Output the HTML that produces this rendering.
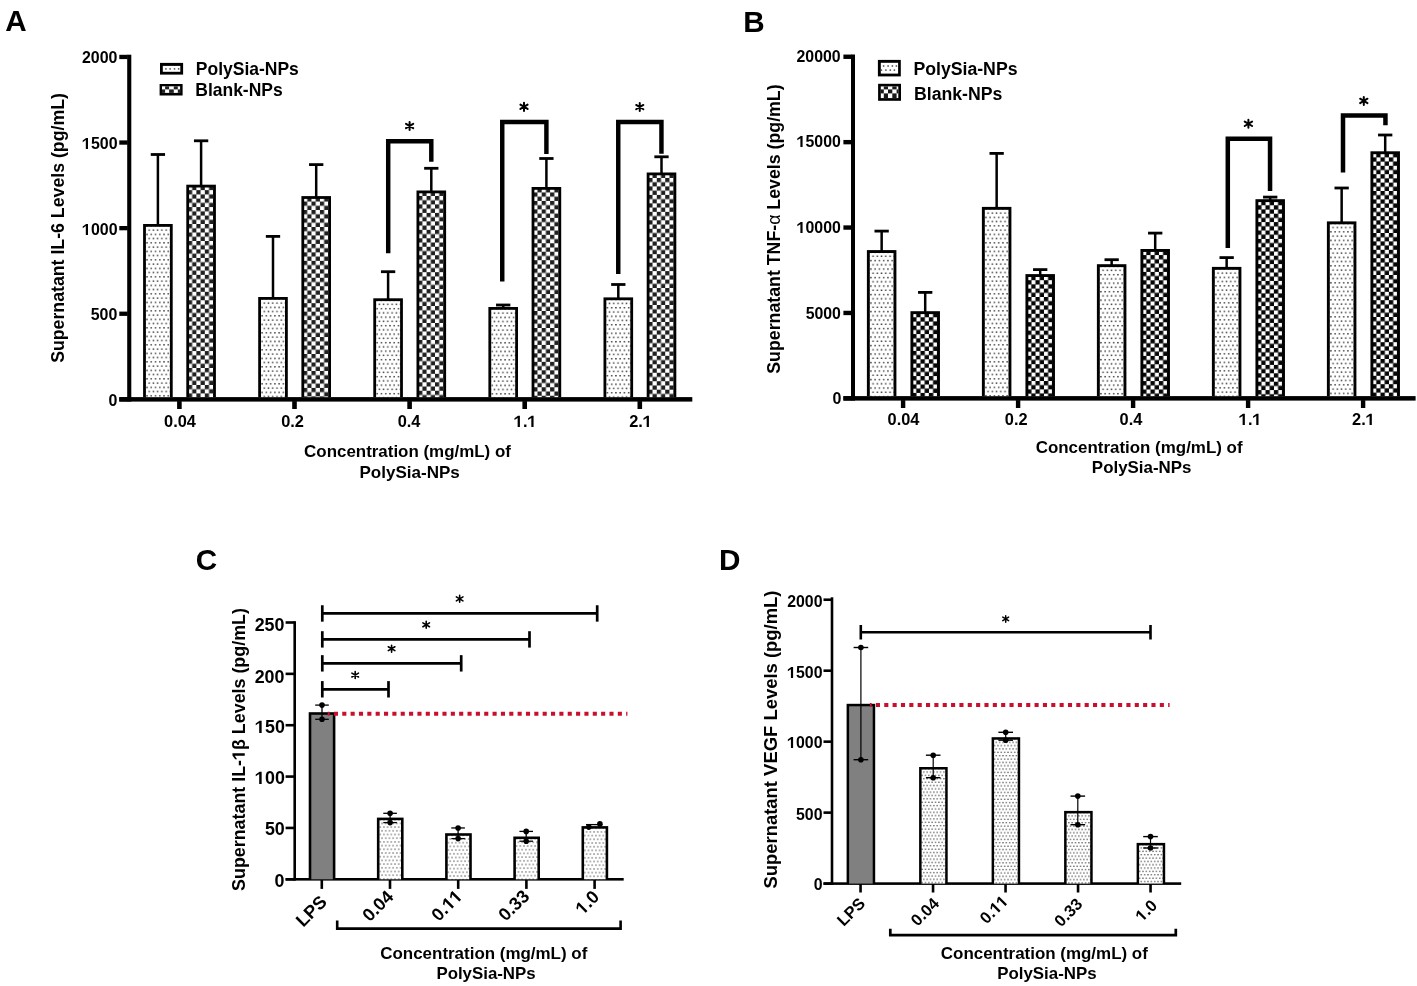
<!DOCTYPE html>
<html><head><meta charset="utf-8"><style>
html,body{margin:0;padding:0;background:#fff;}
svg{display:block;will-change:transform;font-family:"Liberation Sans", sans-serif;}
</style></head><body>
<svg width="1417" height="986" viewBox="0 0 1417 986">

<defs><pattern id="p1" patternUnits="userSpaceOnUse" x="147.025" y="227.975" width="4.25" height="8.5"><rect width="4.25" height="8.5" fill="#fff"/><rect x="1.400" y="1.400" width="1.45" height="1.45" fill="#3a3a3a"/><rect x="-0.725" y="5.650" width="1.45" height="1.45" fill="#3a3a3a"/><rect x="3.525" y="5.650" width="1.45" height="1.45" fill="#3a3a3a"/></pattern><pattern id="p2" patternUnits="userSpaceOnUse" x="187.930" y="190.150" width="8.44" height="8.47"><rect width="8.44" height="8.47" fill="#fff"/><rect width="4.22" height="4.235" fill="#202020"/><rect x="4.22" y="4.235" width="4.22" height="4.235" fill="#202020"/></pattern><pattern id="p3" patternUnits="userSpaceOnUse" x="262.125" y="300.975" width="4.25" height="8.5"><rect width="4.25" height="8.5" fill="#fff"/><rect x="1.400" y="1.400" width="1.45" height="1.45" fill="#3a3a3a"/><rect x="-0.725" y="5.650" width="1.45" height="1.45" fill="#3a3a3a"/><rect x="3.525" y="5.650" width="1.45" height="1.45" fill="#3a3a3a"/></pattern><pattern id="p4" patternUnits="userSpaceOnUse" x="303.030" y="201.550" width="8.44" height="8.47"><rect width="8.44" height="8.47" fill="#fff"/><rect width="4.22" height="4.235" fill="#202020"/><rect x="4.22" y="4.235" width="4.22" height="4.235" fill="#202020"/></pattern><pattern id="p5" patternUnits="userSpaceOnUse" x="377.225" y="302.275" width="4.25" height="8.5"><rect width="4.25" height="8.5" fill="#fff"/><rect x="1.400" y="1.400" width="1.45" height="1.45" fill="#3a3a3a"/><rect x="-0.725" y="5.650" width="1.45" height="1.45" fill="#3a3a3a"/><rect x="3.525" y="5.650" width="1.45" height="1.45" fill="#3a3a3a"/></pattern><pattern id="p6" patternUnits="userSpaceOnUse" x="418.130" y="195.950" width="8.44" height="8.47"><rect width="8.44" height="8.47" fill="#fff"/><rect width="4.22" height="4.235" fill="#202020"/><rect x="4.22" y="4.235" width="4.22" height="4.235" fill="#202020"/></pattern><pattern id="p7" patternUnits="userSpaceOnUse" x="492.325" y="310.975" width="4.25" height="8.5"><rect width="4.25" height="8.5" fill="#fff"/><rect x="1.400" y="1.400" width="1.45" height="1.45" fill="#3a3a3a"/><rect x="-0.725" y="5.650" width="1.45" height="1.45" fill="#3a3a3a"/><rect x="3.525" y="5.650" width="1.45" height="1.45" fill="#3a3a3a"/></pattern><pattern id="p8" patternUnits="userSpaceOnUse" x="533.230" y="192.450" width="8.44" height="8.47"><rect width="8.44" height="8.47" fill="#fff"/><rect width="4.22" height="4.235" fill="#202020"/><rect x="4.22" y="4.235" width="4.22" height="4.235" fill="#202020"/></pattern><pattern id="p9" patternUnits="userSpaceOnUse" x="607.425" y="301.375" width="4.25" height="8.5"><rect width="4.25" height="8.5" fill="#fff"/><rect x="1.400" y="1.400" width="1.45" height="1.45" fill="#3a3a3a"/><rect x="-0.725" y="5.650" width="1.45" height="1.45" fill="#3a3a3a"/><rect x="3.525" y="5.650" width="1.45" height="1.45" fill="#3a3a3a"/></pattern><pattern id="p10" patternUnits="userSpaceOnUse" x="648.330" y="177.950" width="8.44" height="8.47"><rect width="8.44" height="8.47" fill="#fff"/><rect width="4.22" height="4.235" fill="#202020"/><rect x="4.22" y="4.235" width="4.22" height="4.235" fill="#202020"/></pattern><pattern id="p11" patternUnits="userSpaceOnUse" x="870.925" y="254.175" width="4.25" height="8.5"><rect width="4.25" height="8.5" fill="#fff"/><rect x="1.400" y="1.400" width="1.45" height="1.45" fill="#3a3a3a"/><rect x="-0.725" y="5.650" width="1.45" height="1.45" fill="#3a3a3a"/><rect x="3.525" y="5.650" width="1.45" height="1.45" fill="#3a3a3a"/></pattern><pattern id="p12" patternUnits="userSpaceOnUse" x="912.150" y="317.300" width="8.4" height="8.4"><rect width="8.4" height="8.4" fill="#fff"/><rect x="-0.125" y="-0.125" width="4.45" height="4.45" fill="#050505"/><rect x="4.075" y="4.075" width="4.45" height="4.45" fill="#050505"/><rect x="8.275" y="8.275" width="4.45" height="4.45" fill="#050505"/><rect x="8.275" y="-0.125" width="0.125" height="4.45" fill="#050505"/></pattern><pattern id="p13" patternUnits="userSpaceOnUse" x="985.925" y="210.975" width="4.25" height="8.5"><rect width="4.25" height="8.5" fill="#fff"/><rect x="1.400" y="1.400" width="1.45" height="1.45" fill="#3a3a3a"/><rect x="-0.725" y="5.650" width="1.45" height="1.45" fill="#3a3a3a"/><rect x="3.525" y="5.650" width="1.45" height="1.45" fill="#3a3a3a"/></pattern><pattern id="p14" patternUnits="userSpaceOnUse" x="1027.150" y="280.200" width="8.4" height="8.4"><rect width="8.4" height="8.4" fill="#fff"/><rect x="-0.125" y="-0.125" width="4.45" height="4.45" fill="#050505"/><rect x="4.075" y="4.075" width="4.45" height="4.45" fill="#050505"/><rect x="8.275" y="8.275" width="4.45" height="4.45" fill="#050505"/><rect x="8.275" y="-0.125" width="0.125" height="4.45" fill="#050505"/></pattern><pattern id="p15" patternUnits="userSpaceOnUse" x="1100.925" y="268.275" width="4.25" height="8.5"><rect width="4.25" height="8.5" fill="#fff"/><rect x="1.400" y="1.400" width="1.45" height="1.45" fill="#3a3a3a"/><rect x="-0.725" y="5.650" width="1.45" height="1.45" fill="#3a3a3a"/><rect x="3.525" y="5.650" width="1.45" height="1.45" fill="#3a3a3a"/></pattern><pattern id="p16" patternUnits="userSpaceOnUse" x="1142.150" y="255.100" width="8.4" height="8.4"><rect width="8.4" height="8.4" fill="#fff"/><rect x="-0.125" y="-0.125" width="4.45" height="4.45" fill="#050505"/><rect x="4.075" y="4.075" width="4.45" height="4.45" fill="#050505"/><rect x="8.275" y="8.275" width="4.45" height="4.45" fill="#050505"/><rect x="8.275" y="-0.125" width="0.125" height="4.45" fill="#050505"/></pattern><pattern id="p17" patternUnits="userSpaceOnUse" x="1215.925" y="270.975" width="4.25" height="8.5"><rect width="4.25" height="8.5" fill="#fff"/><rect x="1.400" y="1.400" width="1.45" height="1.45" fill="#3a3a3a"/><rect x="-0.725" y="5.650" width="1.45" height="1.45" fill="#3a3a3a"/><rect x="3.525" y="5.650" width="1.45" height="1.45" fill="#3a3a3a"/></pattern><pattern id="p18" patternUnits="userSpaceOnUse" x="1257.150" y="205.300" width="8.4" height="8.4"><rect width="8.4" height="8.4" fill="#fff"/><rect x="-0.125" y="-0.125" width="4.45" height="4.45" fill="#050505"/><rect x="4.075" y="4.075" width="4.45" height="4.45" fill="#050505"/><rect x="8.275" y="8.275" width="4.45" height="4.45" fill="#050505"/><rect x="8.275" y="-0.125" width="0.125" height="4.45" fill="#050505"/></pattern><pattern id="p19" patternUnits="userSpaceOnUse" x="1330.925" y="225.475" width="4.25" height="8.5"><rect width="4.25" height="8.5" fill="#fff"/><rect x="1.400" y="1.400" width="1.45" height="1.45" fill="#3a3a3a"/><rect x="-0.725" y="5.650" width="1.45" height="1.45" fill="#3a3a3a"/><rect x="3.525" y="5.650" width="1.45" height="1.45" fill="#3a3a3a"/></pattern><pattern id="p20" patternUnits="userSpaceOnUse" x="1372.150" y="157.400" width="8.4" height="8.4"><rect width="8.4" height="8.4" fill="#fff"/><rect x="-0.125" y="-0.125" width="4.45" height="4.45" fill="#050505"/><rect x="4.075" y="4.075" width="4.45" height="4.45" fill="#050505"/><rect x="8.275" y="8.275" width="4.45" height="4.45" fill="#050505"/><rect x="8.275" y="-0.125" width="0.125" height="4.45" fill="#050505"/></pattern><pattern id="p21" patternUnits="userSpaceOnUse" x="380.200" y="821.550" width="3.7" height="7.4"><rect width="3.7" height="7.4" fill="#fff"/><rect x="1.300" y="1.300" width="1.1" height="1.1" fill="#222"/><rect x="-0.550" y="5.000" width="1.1" height="1.1" fill="#222"/><rect x="3.150" y="5.000" width="1.1" height="1.1" fill="#222"/></pattern><pattern id="p22" patternUnits="userSpaceOnUse" x="448.400" y="837.150" width="3.7" height="7.4"><rect width="3.7" height="7.4" fill="#fff"/><rect x="1.300" y="1.300" width="1.1" height="1.1" fill="#222"/><rect x="-0.550" y="5.000" width="1.1" height="1.1" fill="#222"/><rect x="3.150" y="5.000" width="1.1" height="1.1" fill="#222"/></pattern><pattern id="p23" patternUnits="userSpaceOnUse" x="516.600" y="840.450" width="3.7" height="7.4"><rect width="3.7" height="7.4" fill="#fff"/><rect x="1.300" y="1.300" width="1.1" height="1.1" fill="#222"/><rect x="-0.550" y="5.000" width="1.1" height="1.1" fill="#222"/><rect x="3.150" y="5.000" width="1.1" height="1.1" fill="#222"/></pattern><pattern id="p24" patternUnits="userSpaceOnUse" x="584.800" y="830.050" width="3.7" height="7.4"><rect width="3.7" height="7.4" fill="#fff"/><rect x="1.300" y="1.300" width="1.1" height="1.1" fill="#222"/><rect x="-0.550" y="5.000" width="1.1" height="1.1" fill="#222"/><rect x="3.150" y="5.000" width="1.1" height="1.1" fill="#222"/></pattern><pattern id="p25" patternUnits="userSpaceOnUse" x="922.125" y="770.425" width="3.35" height="6.7"><rect width="3.35" height="6.7" fill="#fff"/><rect x="1.125" y="1.125" width="1.1" height="1.1" fill="#111"/><rect x="-0.550" y="4.475" width="1.1" height="1.1" fill="#111"/><rect x="2.800" y="4.475" width="1.1" height="1.1" fill="#111"/></pattern><pattern id="p26" patternUnits="userSpaceOnUse" x="994.625" y="740.625" width="3.35" height="6.7"><rect width="3.35" height="6.7" fill="#fff"/><rect x="1.125" y="1.125" width="1.1" height="1.1" fill="#111"/><rect x="-0.550" y="4.475" width="1.1" height="1.1" fill="#111"/><rect x="2.800" y="4.475" width="1.1" height="1.1" fill="#111"/></pattern><pattern id="p27" patternUnits="userSpaceOnUse" x="1067.125" y="814.325" width="3.35" height="6.7"><rect width="3.35" height="6.7" fill="#fff"/><rect x="1.125" y="1.125" width="1.1" height="1.1" fill="#111"/><rect x="-0.550" y="4.475" width="1.1" height="1.1" fill="#111"/><rect x="2.800" y="4.475" width="1.1" height="1.1" fill="#111"/></pattern><pattern id="p28" patternUnits="userSpaceOnUse" x="1139.625" y="846.325" width="3.35" height="6.7"><rect width="3.35" height="6.7" fill="#fff"/><rect x="1.125" y="1.125" width="1.1" height="1.1" fill="#111"/><rect x="-0.550" y="4.475" width="1.1" height="1.1" fill="#111"/><rect x="2.800" y="4.475" width="1.1" height="1.1" fill="#111"/></pattern></defs>
<rect width="1417" height="986" fill="#fff"/>
<rect x="127.20" y="54.70" width="4.10" height="346.90" fill="#000"/>
<rect x="119.30" y="397.10" width="573.00" height="4.50" fill="#000"/>
<rect x="119.30" y="397.20" width="8.40" height="4.30" fill="#000"/>
<g transform="translate(117.28,406.00)"><text font-size="15.96" text-anchor="end" font-weight="bold" fill="#000">0</text></g>
<rect x="119.30" y="311.60" width="8.40" height="4.30" fill="#000"/>
<g transform="translate(117.37,320.00)"><text font-size="15.96" text-anchor="end" font-weight="bold" fill="#000">500</text></g>
<rect x="119.30" y="226.00" width="8.40" height="4.30" fill="#000"/>
<g transform="translate(117.59,235.00)"><text font-size="15.96" text-anchor="end" font-weight="bold" fill="#000"> 000</text><path transform="translate(-35.505,0) scale(0.007793,-0.007793)" d="M478,0L759,0L759,1409L520,1409L81,1100L81,880L478,1139Z" fill="#000"/></g>
<rect x="119.30" y="140.40" width="8.40" height="4.30" fill="#000"/>
<g transform="translate(117.59,149.00)"><text font-size="15.96" text-anchor="end" font-weight="bold" fill="#000"> 500</text><path transform="translate(-35.505,0) scale(0.007793,-0.007793)" d="M478,0L759,0L759,1409L520,1409L81,1100L81,880L478,1139Z" fill="#000"/></g>
<rect x="119.30" y="54.80" width="8.40" height="4.30" fill="#000"/>
<g transform="translate(117.41,63.00)"><text font-size="15.96" text-anchor="end" font-weight="bold" fill="#000">2000</text></g>
<rect x="177.10" y="401.10" width="4.60" height="7.90" fill="#000"/>
<g transform="translate(180.01,427.00)"><text font-size="16.39" text-anchor="middle" font-weight="bold" fill="#000">0.04</text></g>
<rect x="292.20" y="401.10" width="4.60" height="7.90" fill="#000"/>
<g transform="translate(292.50,427.00)"><text font-size="16.39" text-anchor="middle" font-weight="bold" fill="#000">0.2</text></g>
<rect x="407.30" y="401.10" width="4.60" height="7.90" fill="#000"/>
<g transform="translate(409.03,427.00)"><text font-size="16.39" text-anchor="middle" font-weight="bold" fill="#000">0.4</text></g>
<rect x="522.40" y="401.10" width="4.60" height="7.90" fill="#000"/>
<g transform="translate(525.22,427.00)"><text font-size="16.39" text-anchor="middle" font-weight="bold" fill="#000"> . </text><path transform="translate(-11.389,0) scale(0.008001,-0.008001)" d="M478,0L759,0L759,1409L520,1409L81,1100L81,880L478,1139Z" fill="#000"/><path transform="translate(2.276,0) scale(0.008001,-0.008001)" d="M478,0L759,0L759,1409L520,1409L81,1100L81,880L478,1139Z" fill="#000"/></g>
<rect x="637.50" y="401.10" width="4.60" height="7.90" fill="#000"/>
<g transform="translate(640.57,427.00)"><text font-size="16.39" text-anchor="middle" font-weight="bold" fill="#000">2. </text><path transform="translate(2.276,0) scale(0.008001,-0.008001)" d="M478,0L759,0L759,1409L520,1409L81,1100L81,880L478,1139Z" fill="#000"/></g>
<line x1="157.90" y1="154.50" x2="157.90" y2="225.00" stroke="#000" stroke-width="2.5" stroke-linecap="butt" />
<line x1="150.75" y1="154.50" x2="165.05" y2="154.50" stroke="#000" stroke-width="2.8" stroke-linecap="butt" />
<rect x="143.10" y="224.00" width="29.60" height="173.10" fill="#000"/>
<rect x="145.90" y="226.80" width="24.00" height="170.30" fill="url(#p1)"/>
<line x1="201.10" y1="140.80" x2="201.10" y2="185.70" stroke="#000" stroke-width="2.5" stroke-linecap="butt" />
<line x1="193.95" y1="140.80" x2="208.25" y2="140.80" stroke="#000" stroke-width="2.8" stroke-linecap="butt" />
<rect x="186.30" y="184.70" width="29.60" height="212.40" fill="#000"/>
<rect x="189.10" y="187.50" width="24.00" height="209.60" fill="url(#p2)"/>
<line x1="273.00" y1="236.40" x2="273.00" y2="298.00" stroke="#000" stroke-width="2.5" stroke-linecap="butt" />
<line x1="265.85" y1="236.40" x2="280.15" y2="236.40" stroke="#000" stroke-width="2.8" stroke-linecap="butt" />
<rect x="258.20" y="297.00" width="29.60" height="100.10" fill="#000"/>
<rect x="261.00" y="299.80" width="24.00" height="97.30" fill="url(#p3)"/>
<line x1="316.20" y1="164.60" x2="316.20" y2="197.10" stroke="#000" stroke-width="2.5" stroke-linecap="butt" />
<line x1="309.05" y1="164.60" x2="323.35" y2="164.60" stroke="#000" stroke-width="2.8" stroke-linecap="butt" />
<rect x="301.40" y="196.10" width="29.60" height="201.00" fill="#000"/>
<rect x="304.20" y="198.90" width="24.00" height="198.20" fill="url(#p4)"/>
<line x1="388.10" y1="271.70" x2="388.10" y2="299.30" stroke="#000" stroke-width="2.5" stroke-linecap="butt" />
<line x1="380.95" y1="271.70" x2="395.25" y2="271.70" stroke="#000" stroke-width="2.8" stroke-linecap="butt" />
<rect x="373.30" y="298.30" width="29.60" height="98.80" fill="#000"/>
<rect x="376.10" y="301.10" width="24.00" height="96.00" fill="url(#p5)"/>
<line x1="431.30" y1="168.30" x2="431.30" y2="191.50" stroke="#000" stroke-width="2.5" stroke-linecap="butt" />
<line x1="424.15" y1="168.30" x2="438.45" y2="168.30" stroke="#000" stroke-width="2.8" stroke-linecap="butt" />
<rect x="416.50" y="190.50" width="29.60" height="206.60" fill="#000"/>
<rect x="419.30" y="193.30" width="24.00" height="203.80" fill="url(#p6)"/>
<line x1="503.20" y1="305.00" x2="503.20" y2="308.00" stroke="#000" stroke-width="2.5" stroke-linecap="butt" />
<line x1="496.05" y1="305.00" x2="510.35" y2="305.00" stroke="#000" stroke-width="2.8" stroke-linecap="butt" />
<rect x="488.40" y="307.00" width="29.60" height="90.10" fill="#000"/>
<rect x="491.20" y="309.80" width="24.00" height="87.30" fill="url(#p7)"/>
<line x1="546.40" y1="158.50" x2="546.40" y2="188.00" stroke="#000" stroke-width="2.5" stroke-linecap="butt" />
<line x1="539.25" y1="158.50" x2="553.55" y2="158.50" stroke="#000" stroke-width="2.8" stroke-linecap="butt" />
<rect x="531.60" y="187.00" width="29.60" height="210.10" fill="#000"/>
<rect x="534.40" y="189.80" width="24.00" height="207.30" fill="url(#p8)"/>
<line x1="618.30" y1="284.50" x2="618.30" y2="298.40" stroke="#000" stroke-width="2.5" stroke-linecap="butt" />
<line x1="611.15" y1="284.50" x2="625.45" y2="284.50" stroke="#000" stroke-width="2.8" stroke-linecap="butt" />
<rect x="603.50" y="297.40" width="29.60" height="99.70" fill="#000"/>
<rect x="606.30" y="300.20" width="24.00" height="96.90" fill="url(#p9)"/>
<line x1="661.50" y1="156.80" x2="661.50" y2="173.50" stroke="#000" stroke-width="2.5" stroke-linecap="butt" />
<line x1="654.35" y1="156.80" x2="668.65" y2="156.80" stroke="#000" stroke-width="2.8" stroke-linecap="butt" />
<rect x="646.70" y="172.50" width="29.60" height="224.60" fill="#000"/>
<rect x="649.50" y="175.30" width="24.00" height="221.80" fill="url(#p10)"/>
<polyline points="388.20,253.30 388.20,141.30 431.30,141.30 431.30,161.75" fill="none" stroke="#000" stroke-width="4.45" stroke-linejoin="miter"/>
<polyline points="502.25,281.50 502.25,122.05 546.40,122.05 546.40,154.05" fill="none" stroke="#000" stroke-width="4.45" stroke-linejoin="miter"/>
<polyline points="618.25,273.90 618.25,122.05 661.45,122.05 661.45,153.80" fill="none" stroke="#000" stroke-width="4.45" stroke-linejoin="miter"/>
<path d="M409.60,122.00V130.00M406.00,123.84L413.20,128.16M406.00,128.16L413.20,123.84" stroke="#000" stroke-width="2.0" stroke-linecap="round" fill="none"/>
<path d="M524.00,102.70V110.90M520.40,104.64L527.60,108.96M520.40,108.96L527.60,104.64" stroke="#000" stroke-width="2.0" stroke-linecap="round" fill="none"/>
<path d="M639.75,103.10V111.10M636.15,104.94L643.35,109.26M636.15,109.26L643.35,104.94" stroke="#000" stroke-width="2.0" stroke-linecap="round" fill="none"/>
<rect x="160.00" y="62.90" width="23.10" height="11.70" fill="#000"/>
<rect x="162.80" y="65.90" width="17.50" height="5.90" fill="#fff"/>
<rect x="165.15" y="68.15" width="1.50" height="1.50" fill="#4a4a4a"/>
<rect x="169.35" y="68.15" width="1.50" height="1.50" fill="#4a4a4a"/>
<rect x="173.75" y="68.15" width="1.50" height="1.50" fill="#4a4a4a"/>
<rect x="177.85" y="68.15" width="1.50" height="1.50" fill="#4a4a4a"/>
<rect x="159.60" y="84.00" width="23.00" height="11.50" fill="#000"/>
<rect x="162.00" y="86.30" width="18.10" height="6.60" fill="#fff"/>
<rect x="165.10" y="86.30" width="4.00" height="3.10" fill="#222"/>
<rect x="173.80" y="86.30" width="4.00" height="3.10" fill="#222"/>
<rect x="162.00" y="89.40" width="3.10" height="3.50" fill="#222"/>
<rect x="169.10" y="89.40" width="4.70" height="3.50" fill="#222"/>
<rect x="177.80" y="89.40" width="2.30" height="3.50" fill="#222"/>
<g transform="translate(195.83,75.00)"><text font-size="17.49" text-anchor="start" font-weight="bold" fill="#000">PolySia-NPs</text></g>
<g transform="translate(195.25,96.00)"><text font-size="17.49" text-anchor="start" font-weight="bold" fill="#000">Blank-NPs</text></g>
<g transform="translate(5.28,31.00)"><text font-size="29.68" text-anchor="start" font-weight="bold" fill="#000">A</text></g>
<g transform="translate(64.44,227.98) rotate(-90)"><text font-size="17.73" text-anchor="middle" font-weight="bold" fill="#000">Supernatant IL-6 Levels (pg/mL)</text></g>
<g transform="translate(407.49,457.00)"><text font-size="16.93" text-anchor="middle" font-weight="bold" fill="#000">Concentration (mg/mL) of</text></g>
<g transform="translate(409.61,478.00)"><text font-size="17.05" text-anchor="middle" font-weight="bold" fill="#000">PolySia-NPs</text></g>
<rect x="851.00" y="54.50" width="4.00" height="346.10" fill="#000"/>
<rect x="843.40" y="396.10" width="572.20" height="4.50" fill="#000"/>
<rect x="843.40" y="396.15" width="8.10" height="4.40" fill="#000"/>
<g transform="translate(841.30,404.00)"><text font-size="16.00" text-anchor="end" font-weight="bold" fill="#000">0</text></g>
<rect x="843.40" y="310.75" width="8.10" height="4.40" fill="#000"/>
<g transform="translate(840.92,319.00)"><text font-size="15.86" text-anchor="end" font-weight="bold" fill="#000">5000</text></g>
<rect x="843.40" y="225.35" width="8.10" height="4.40" fill="#000"/>
<g transform="translate(840.79,233.00)"><text font-size="15.86" text-anchor="end" font-weight="bold" fill="#000"> 0000</text><path transform="translate(-44.096,0) scale(0.007743,-0.007743)" d="M478,0L759,0L759,1409L520,1409L81,1100L81,880L478,1139Z" fill="#000"/></g>
<rect x="843.40" y="139.95" width="8.10" height="4.40" fill="#000"/>
<g transform="translate(840.79,147.00)"><text font-size="15.86" text-anchor="end" font-weight="bold" fill="#000"> 5000</text><path transform="translate(-44.096,0) scale(0.007743,-0.007743)" d="M478,0L759,0L759,1409L520,1409L81,1100L81,880L478,1139Z" fill="#000"/></g>
<rect x="843.40" y="54.55" width="8.10" height="4.40" fill="#000"/>
<g transform="translate(840.61,62.00)"><text font-size="15.86" text-anchor="end" font-weight="bold" fill="#000">20000</text></g>
<rect x="900.90" y="400.10" width="4.40" height="7.90" fill="#000"/>
<g transform="translate(903.46,425.00)"><text font-size="16.36" text-anchor="middle" font-weight="bold" fill="#000">0.04</text></g>
<rect x="1015.90" y="400.10" width="4.40" height="7.90" fill="#000"/>
<g transform="translate(1016.21,425.00)"><text font-size="16.36" text-anchor="middle" font-weight="bold" fill="#000">0.2</text></g>
<rect x="1130.90" y="400.10" width="4.40" height="7.90" fill="#000"/>
<g transform="translate(1130.98,425.00)"><text font-size="16.36" text-anchor="middle" font-weight="bold" fill="#000">0.4</text></g>
<rect x="1245.90" y="400.10" width="4.40" height="7.90" fill="#000"/>
<g transform="translate(1250.17,425.00)"><text font-size="16.36" text-anchor="middle" font-weight="bold" fill="#000"> . </text><path transform="translate(-11.370,0) scale(0.007987,-0.007987)" d="M478,0L759,0L759,1409L520,1409L81,1100L81,880L478,1139Z" fill="#000"/><path transform="translate(2.272,0) scale(0.007987,-0.007987)" d="M478,0L759,0L759,1409L520,1409L81,1100L81,880L478,1139Z" fill="#000"/></g>
<rect x="1360.90" y="400.10" width="4.40" height="7.90" fill="#000"/>
<g transform="translate(1363.48,425.00)"><text font-size="16.36" text-anchor="middle" font-weight="bold" fill="#000">2. </text><path transform="translate(2.272,0) scale(0.007987,-0.007987)" d="M478,0L759,0L759,1409L520,1409L81,1100L81,880L478,1139Z" fill="#000"/></g>
<line x1="881.65" y1="231.10" x2="881.65" y2="251.10" stroke="#000" stroke-width="2.5" stroke-linecap="butt" />
<line x1="874.50" y1="231.10" x2="888.80" y2="231.10" stroke="#000" stroke-width="2.8" stroke-linecap="butt" />
<rect x="866.90" y="250.10" width="29.50" height="146.00" fill="#000"/>
<rect x="869.80" y="253.00" width="23.70" height="143.10" fill="url(#p11)"/>
<line x1="925.20" y1="292.40" x2="925.20" y2="312.20" stroke="#000" stroke-width="2.5" stroke-linecap="butt" />
<line x1="918.05" y1="292.40" x2="932.35" y2="292.40" stroke="#000" stroke-width="2.8" stroke-linecap="butt" />
<rect x="910.45" y="311.20" width="29.50" height="84.90" fill="#000"/>
<rect x="913.35" y="314.10" width="23.70" height="82.00" fill="url(#p12)"/>
<line x1="996.65" y1="153.40" x2="996.65" y2="207.90" stroke="#000" stroke-width="2.5" stroke-linecap="butt" />
<line x1="989.50" y1="153.40" x2="1003.80" y2="153.40" stroke="#000" stroke-width="2.8" stroke-linecap="butt" />
<rect x="981.90" y="206.90" width="29.50" height="189.20" fill="#000"/>
<rect x="984.80" y="209.80" width="23.70" height="186.30" fill="url(#p13)"/>
<line x1="1040.20" y1="269.60" x2="1040.20" y2="275.10" stroke="#000" stroke-width="2.5" stroke-linecap="butt" />
<line x1="1033.05" y1="269.60" x2="1047.35" y2="269.60" stroke="#000" stroke-width="2.8" stroke-linecap="butt" />
<rect x="1025.45" y="274.10" width="29.50" height="122.00" fill="#000"/>
<rect x="1028.35" y="277.00" width="23.70" height="119.10" fill="url(#p14)"/>
<line x1="1111.65" y1="259.70" x2="1111.65" y2="265.20" stroke="#000" stroke-width="2.5" stroke-linecap="butt" />
<line x1="1104.50" y1="259.70" x2="1118.80" y2="259.70" stroke="#000" stroke-width="2.8" stroke-linecap="butt" />
<rect x="1096.90" y="264.20" width="29.50" height="131.90" fill="#000"/>
<rect x="1099.80" y="267.10" width="23.70" height="129.00" fill="url(#p15)"/>
<line x1="1155.20" y1="233.10" x2="1155.20" y2="250.00" stroke="#000" stroke-width="2.5" stroke-linecap="butt" />
<line x1="1148.05" y1="233.10" x2="1162.35" y2="233.10" stroke="#000" stroke-width="2.8" stroke-linecap="butt" />
<rect x="1140.45" y="249.00" width="29.50" height="147.10" fill="#000"/>
<rect x="1143.35" y="251.90" width="23.70" height="144.20" fill="url(#p16)"/>
<line x1="1226.65" y1="257.60" x2="1226.65" y2="267.90" stroke="#000" stroke-width="2.5" stroke-linecap="butt" />
<line x1="1219.50" y1="257.60" x2="1233.80" y2="257.60" stroke="#000" stroke-width="2.8" stroke-linecap="butt" />
<rect x="1211.90" y="266.90" width="29.50" height="129.20" fill="#000"/>
<rect x="1214.80" y="269.80" width="23.70" height="126.30" fill="url(#p17)"/>
<line x1="1270.20" y1="197.10" x2="1270.20" y2="200.20" stroke="#000" stroke-width="2.5" stroke-linecap="butt" />
<line x1="1263.05" y1="197.10" x2="1277.35" y2="197.10" stroke="#000" stroke-width="2.8" stroke-linecap="butt" />
<rect x="1255.45" y="199.20" width="29.50" height="196.90" fill="#000"/>
<rect x="1258.35" y="202.10" width="23.70" height="194.00" fill="url(#p18)"/>
<line x1="1341.65" y1="188.00" x2="1341.65" y2="222.40" stroke="#000" stroke-width="2.5" stroke-linecap="butt" />
<line x1="1334.50" y1="188.00" x2="1348.80" y2="188.00" stroke="#000" stroke-width="2.8" stroke-linecap="butt" />
<rect x="1326.90" y="221.40" width="29.50" height="174.70" fill="#000"/>
<rect x="1329.80" y="224.30" width="23.70" height="171.80" fill="url(#p19)"/>
<line x1="1385.20" y1="135.00" x2="1385.20" y2="152.30" stroke="#000" stroke-width="2.5" stroke-linecap="butt" />
<line x1="1378.05" y1="135.00" x2="1392.35" y2="135.00" stroke="#000" stroke-width="2.8" stroke-linecap="butt" />
<rect x="1370.45" y="151.30" width="29.50" height="244.80" fill="#000"/>
<rect x="1373.35" y="154.20" width="23.70" height="241.90" fill="url(#p20)"/>
<polyline points="1227.80,248.00 1227.80,138.85 1270.05,138.85 1270.05,191.00" fill="none" stroke="#000" stroke-width="4.5" stroke-linejoin="miter"/>
<polyline points="1343.00,172.40 1343.00,115.55 1385.45,115.55 1385.45,125.30" fill="none" stroke="#000" stroke-width="4.5" stroke-linejoin="miter"/>
<path d="M1248.40,119.80V127.80M1244.71,121.59L1252.09,126.01M1244.71,126.01L1252.09,121.59" stroke="#000" stroke-width="2.0" stroke-linecap="round" fill="none"/>
<path d="M1363.80,96.90V104.90M1360.11,98.69L1367.49,103.11M1360.11,103.11L1367.49,98.69" stroke="#000" stroke-width="2.0" stroke-linecap="round" fill="none"/>
<rect x="877.90" y="59.90" width="22.90" height="16.50" fill="#000"/>
<rect x="880.80" y="62.80" width="17.30" height="10.80" fill="#fff"/>
<rect x="882.85" y="65.25" width="1.50" height="1.50" fill="#4a4a4a"/>
<rect x="887.35" y="65.25" width="1.50" height="1.50" fill="#4a4a4a"/>
<rect x="891.65" y="65.25" width="1.50" height="1.50" fill="#4a4a4a"/>
<rect x="895.65" y="65.25" width="1.50" height="1.50" fill="#4a4a4a"/>
<rect x="880.65" y="69.35" width="1.50" height="1.50" fill="#4a4a4a"/>
<rect x="885.15" y="69.35" width="1.50" height="1.50" fill="#4a4a4a"/>
<rect x="889.55" y="69.35" width="1.50" height="1.50" fill="#4a4a4a"/>
<rect x="893.65" y="69.35" width="1.50" height="1.50" fill="#4a4a4a"/>
<rect x="878.10" y="83.80" width="22.90" height="17.00" fill="#000"/>
<rect x="880.80" y="86.40" width="17.50" height="11.70" fill="#fff"/>
<rect x="883.80" y="86.40" width="4.20" height="3.00" fill="#1a1a1a"/>
<rect x="883.80" y="93.40" width="4.20" height="4.70" fill="#1a1a1a"/>
<rect x="892.30" y="86.40" width="4.30" height="3.00" fill="#1a1a1a"/>
<rect x="892.30" y="93.40" width="4.30" height="4.70" fill="#1a1a1a"/>
<rect x="880.80" y="89.40" width="3.00" height="4.00" fill="#1a1a1a"/>
<rect x="888.00" y="89.40" width="4.30" height="4.00" fill="#1a1a1a"/>
<rect x="896.60" y="89.40" width="1.70" height="4.00" fill="#1a1a1a"/>
<g transform="translate(913.39,75.00)"><text font-size="17.68" text-anchor="start" font-weight="bold" fill="#000">PolySia-NPs</text></g>
<g transform="translate(914.00,100.00)"><text font-size="17.68" text-anchor="start" font-weight="bold" fill="#000">Blank-NPs</text></g>
<g transform="translate(743.17,32.00)"><text font-size="29.68" text-anchor="start" font-weight="bold" fill="#000">B</text></g>
<g transform="translate(780.23,229.05) rotate(-90)"><text font-size="17.76" text-anchor="middle" font-weight="bold" fill="#000">Supernatant TNF-<tspan font-weight="normal">α</tspan> Levels (pg/mL)</text></g>
<g transform="translate(1139.13,453.00)"><text font-size="16.93" text-anchor="middle" font-weight="bold" fill="#000">Concentration (mg/mL) of</text></g>
<g transform="translate(1141.62,473.00)"><text font-size="16.90" text-anchor="middle" font-weight="bold" fill="#000">PolySia-NPs</text></g>
<rect x="293.40" y="621.20" width="2.60" height="259.40" fill="#000"/>
<rect x="285.60" y="878.00" width="338.10" height="2.60" fill="#000"/>
<rect x="285.60" y="878.00" width="9.10" height="2.60" fill="#000"/>
<g transform="translate(284.43,887.00)"><text font-size="17.89" text-anchor="end" font-weight="bold" fill="#000">0</text></g>
<rect x="285.60" y="826.64" width="9.10" height="2.60" fill="#000"/>
<g transform="translate(284.81,835.00)"><text font-size="17.89" text-anchor="end" font-weight="bold" fill="#000">50</text></g>
<rect x="285.60" y="775.28" width="9.10" height="2.60" fill="#000"/>
<g transform="translate(284.87,784.00)"><text font-size="17.89" text-anchor="end" font-weight="bold" fill="#000"> 00</text><path transform="translate(-29.852,0) scale(0.008736,-0.008736)" d="M478,0L759,0L759,1409L520,1409L81,1100L81,880L478,1139Z" fill="#000"/></g>
<rect x="285.60" y="723.92" width="9.10" height="2.60" fill="#000"/>
<g transform="translate(284.87,733.00)"><text font-size="17.89" text-anchor="end" font-weight="bold" fill="#000"> 50</text><path transform="translate(-29.852,0) scale(0.008736,-0.008736)" d="M478,0L759,0L759,1409L520,1409L81,1100L81,880L478,1139Z" fill="#000"/></g>
<rect x="285.60" y="672.56" width="9.10" height="2.60" fill="#000"/>
<g transform="translate(284.47,683.00)"><text font-size="17.89" text-anchor="end" font-weight="bold" fill="#000">200</text></g>
<rect x="285.60" y="621.20" width="9.10" height="2.60" fill="#000"/>
<g transform="translate(284.47,631.00)"><text font-size="17.89" text-anchor="end" font-weight="bold" fill="#000">250</text></g>
<rect x="320.50" y="879.30" width="2.60" height="9.60" fill="#000"/>
<rect x="388.70" y="879.30" width="2.60" height="9.60" fill="#000"/>
<rect x="456.90" y="879.30" width="2.60" height="9.60" fill="#000"/>
<rect x="525.10" y="879.30" width="2.60" height="9.60" fill="#000"/>
<rect x="593.30" y="879.30" width="2.60" height="9.60" fill="#000"/>
<rect x="308.70" y="712.20" width="26.70" height="167.10" fill="#000"/>
<rect x="311.30" y="714.80" width="21.50" height="164.50" fill="#808080"/>
<rect x="376.90" y="817.60" width="26.70" height="61.70" fill="#000"/>
<rect x="379.50" y="820.20" width="21.50" height="59.10" fill="url(#p21)"/>
<rect x="445.10" y="833.20" width="26.70" height="46.10" fill="#000"/>
<rect x="447.70" y="835.80" width="21.50" height="43.50" fill="url(#p22)"/>
<rect x="513.30" y="836.50" width="26.70" height="42.80" fill="#000"/>
<rect x="515.90" y="839.10" width="21.50" height="40.20" fill="url(#p23)"/>
<rect x="581.50" y="826.10" width="26.70" height="53.20" fill="#000"/>
<rect x="584.10" y="828.70" width="21.50" height="50.60" fill="url(#p24)"/>
<line x1="327.70" y1="713.70" x2="627.40" y2="713.70" stroke="#c8102e" stroke-width="3.9" stroke-dasharray="4.1 4.25" stroke-dashoffset="2.15"/>
<line x1="322.00" y1="705.10" x2="322.00" y2="719.30" stroke="#000" stroke-width="1.3" stroke-linecap="butt" />
<line x1="315.20" y1="705.10" x2="328.80" y2="705.10" stroke="#000" stroke-width="1.3" stroke-linecap="butt" />
<line x1="315.20" y1="719.30" x2="328.80" y2="719.30" stroke="#000" stroke-width="1.3" stroke-linecap="butt" />
<circle cx="322.00" cy="705.10" r="2.8" fill="#000"/>
<circle cx="322.00" cy="719.30" r="2.8" fill="#000"/>
<line x1="390.10" y1="813.30" x2="390.10" y2="822.60" stroke="#000" stroke-width="1.3" stroke-linecap="butt" />
<line x1="383.30" y1="813.30" x2="396.90" y2="813.30" stroke="#000" stroke-width="1.3" stroke-linecap="butt" />
<line x1="383.30" y1="822.60" x2="396.90" y2="822.60" stroke="#000" stroke-width="1.3" stroke-linecap="butt" />
<circle cx="390.10" cy="813.30" r="2.8" fill="#000"/>
<circle cx="390.10" cy="822.60" r="2.8" fill="#000"/>
<line x1="458.10" y1="827.95" x2="458.10" y2="838.60" stroke="#000" stroke-width="1.3" stroke-linecap="butt" />
<line x1="451.30" y1="827.95" x2="464.90" y2="827.95" stroke="#000" stroke-width="1.3" stroke-linecap="butt" />
<line x1="451.30" y1="838.60" x2="464.90" y2="838.60" stroke="#000" stroke-width="1.3" stroke-linecap="butt" />
<circle cx="458.10" cy="827.95" r="2.8" fill="#000"/>
<circle cx="458.10" cy="838.60" r="2.8" fill="#000"/>
<line x1="526.20" y1="831.40" x2="526.20" y2="841.20" stroke="#000" stroke-width="1.3" stroke-linecap="butt" />
<line x1="519.40" y1="831.40" x2="533.00" y2="831.40" stroke="#000" stroke-width="1.3" stroke-linecap="butt" />
<line x1="519.40" y1="841.20" x2="533.00" y2="841.20" stroke="#000" stroke-width="1.3" stroke-linecap="butt" />
<circle cx="526.20" cy="831.40" r="2.8" fill="#000"/>
<circle cx="526.20" cy="841.20" r="2.8" fill="#000"/>
<line x1="586.00" y1="824.60" x2="602.50" y2="824.60" stroke="#000" stroke-width="1.3" stroke-linecap="butt" />
<circle cx="588.80" cy="827.10" r="2.8" fill="#000"/>
<circle cx="599.90" cy="823.90" r="2.8" fill="#000"/>
<line x1="322.30" y1="613.45" x2="597.20" y2="613.45" stroke="#000" stroke-width="2.7" stroke-linecap="butt" />
<line x1="322.30" y1="605.25" x2="322.30" y2="621.65" stroke="#000" stroke-width="2.7" stroke-linecap="butt" />
<line x1="597.20" y1="605.25" x2="597.20" y2="621.65" stroke="#000" stroke-width="2.7" stroke-linecap="butt" />
<line x1="322.30" y1="639.40" x2="529.50" y2="639.40" stroke="#000" stroke-width="2.7" stroke-linecap="butt" />
<line x1="322.30" y1="631.20" x2="322.30" y2="647.60" stroke="#000" stroke-width="2.7" stroke-linecap="butt" />
<line x1="529.50" y1="631.20" x2="529.50" y2="647.60" stroke="#000" stroke-width="2.7" stroke-linecap="butt" />
<line x1="322.30" y1="663.35" x2="461.20" y2="663.35" stroke="#000" stroke-width="2.7" stroke-linecap="butt" />
<line x1="322.30" y1="655.15" x2="322.30" y2="671.55" stroke="#000" stroke-width="2.7" stroke-linecap="butt" />
<line x1="461.20" y1="655.15" x2="461.20" y2="671.55" stroke="#000" stroke-width="2.7" stroke-linecap="butt" />
<line x1="322.30" y1="689.30" x2="388.50" y2="689.30" stroke="#000" stroke-width="2.7" stroke-linecap="butt" />
<line x1="322.30" y1="681.10" x2="322.30" y2="697.50" stroke="#000" stroke-width="2.7" stroke-linecap="butt" />
<line x1="388.50" y1="681.10" x2="388.50" y2="697.50" stroke="#000" stroke-width="2.7" stroke-linecap="butt" />
<path d="M459.65,595.40V602.30M456.35,596.87L462.95,600.83M456.35,600.83L462.95,596.87" stroke="#000" stroke-width="1.6" stroke-linecap="round" fill="none"/>
<path d="M426.20,621.35V628.25M422.90,622.82L429.50,626.78M422.90,626.78L429.50,622.82" stroke="#000" stroke-width="1.6" stroke-linecap="round" fill="none"/>
<path d="M391.60,645.25V652.15M388.30,646.72L394.90,650.68M388.30,650.68L394.90,646.72" stroke="#000" stroke-width="1.6" stroke-linecap="round" fill="none"/>
<path d="M355.20,671.60V678.50M351.90,673.07L358.50,677.03M351.90,677.03L358.50,673.07" stroke="#000" stroke-width="1.6" stroke-linecap="round" fill="none"/>
<g transform="translate(327.89,903.04) rotate(-45)"><text font-size="18.00" text-anchor="end" font-weight="bold" fill="#000">LPS</text></g>
<g transform="translate(394.50,897.83) rotate(-45)"><text font-size="18.00" text-anchor="end" font-weight="bold" fill="#000">0.04</text></g>
<g transform="translate(463.43,897.39) rotate(-45)"><text font-size="18.00" text-anchor="end" font-weight="bold" fill="#000">0.  </text><path transform="translate(-20.021,0) scale(0.008789,-0.008789)" d="M478,0L759,0L759,1409L520,1409L81,1100L81,880L478,1139Z" fill="#000"/><path transform="translate(-10.011,0) scale(0.008789,-0.008789)" d="M478,0L759,0L759,1409L520,1409L81,1100L81,880L478,1139Z" fill="#000"/></g>
<g transform="translate(530.48,897.33) rotate(-45)"><text font-size="18.00" text-anchor="end" font-weight="bold" fill="#000">0.33</text></g>
<g transform="translate(600.45,897.98) rotate(-45)"><text font-size="18.00" text-anchor="end" font-weight="bold" fill="#000"> .0</text><path transform="translate(-25.022,0) scale(0.008789,-0.008789)" d="M478,0L759,0L759,1409L520,1409L81,1100L81,880L478,1139Z" fill="#000"/></g>
<polyline points="337.20,920.60 337.20,928.60 620.60,928.60 620.60,920.60" fill="none" stroke="#000" stroke-width="2.6" stroke-linejoin="miter"/>
<g transform="translate(195.66,570.00)"><text font-size="29.68" text-anchor="start" font-weight="bold" fill="#000">C</text></g>
<g transform="translate(244.75,749.52) rotate(-90)"><text font-size="17.88" text-anchor="middle" font-weight="bold" fill="#000">Supernatant IL- β Levels (pg/mL)</text><path transform="translate(-10.423,0) scale(0.008730,-0.008730)" d="M478,0L759,0L759,1409L520,1409L81,1100L81,880L478,1139Z" fill="#000"/></g>
<g transform="translate(483.77,959.00)"><text font-size="16.94" text-anchor="middle" font-weight="bold" fill="#000">Concentration (mg/mL) of</text></g>
<g transform="translate(486.02,979.00)"><text font-size="16.85" text-anchor="middle" font-weight="bold" fill="#000">PolySia-NPs</text></g>
<rect x="830.70" y="597.30" width="2.60" height="287.60" fill="#000"/>
<rect x="823.50" y="882.30" width="357.70" height="2.60" fill="#000"/>
<rect x="823.50" y="882.30" width="8.50" height="2.60" fill="#000"/>
<g transform="translate(822.54,890.00)"><text font-size="15.86" text-anchor="end" font-weight="bold" fill="#000">0</text></g>
<rect x="823.50" y="811.33" width="8.50" height="2.60" fill="#000"/>
<g transform="translate(822.47,820.00)"><text font-size="15.86" text-anchor="end" font-weight="bold" fill="#000">500</text></g>
<rect x="823.50" y="740.36" width="8.50" height="2.60" fill="#000"/>
<g transform="translate(822.51,748.00)"><text font-size="15.86" text-anchor="end" font-weight="bold" fill="#000"> 000</text><path transform="translate(-35.290,0) scale(0.007746,-0.007746)" d="M478,0L759,0L759,1409L520,1409L81,1100L81,880L478,1139Z" fill="#000"/></g>
<rect x="823.50" y="669.39" width="8.50" height="2.60" fill="#000"/>
<g transform="translate(822.51,678.00)"><text font-size="15.86" text-anchor="end" font-weight="bold" fill="#000"> 500</text><path transform="translate(-35.290,0) scale(0.007746,-0.007746)" d="M478,0L759,0L759,1409L520,1409L81,1100L81,880L478,1139Z" fill="#000"/></g>
<rect x="823.50" y="598.42" width="8.50" height="2.60" fill="#000"/>
<g transform="translate(822.51,607.00)"><text font-size="15.86" text-anchor="end" font-weight="bold" fill="#000">2000</text></g>
<rect x="859.25" y="883.60" width="2.60" height="8.90" fill="#000"/>
<rect x="931.75" y="883.60" width="2.60" height="8.90" fill="#000"/>
<rect x="1004.25" y="883.60" width="2.60" height="8.90" fill="#000"/>
<rect x="1076.75" y="883.60" width="2.60" height="8.90" fill="#000"/>
<rect x="1149.25" y="883.60" width="2.60" height="8.90" fill="#000"/>
<rect x="846.60" y="703.80" width="28.60" height="179.80" fill="#000"/>
<rect x="849.10" y="706.30" width="23.60" height="177.30" fill="#808080"/>
<rect x="919.10" y="767.00" width="28.60" height="116.60" fill="#000"/>
<rect x="921.60" y="769.50" width="23.60" height="114.10" fill="url(#p25)"/>
<rect x="991.60" y="737.20" width="28.60" height="146.40" fill="#000"/>
<rect x="994.10" y="739.70" width="23.60" height="143.90" fill="url(#p26)"/>
<rect x="1064.10" y="810.90" width="28.60" height="72.70" fill="#000"/>
<rect x="1066.60" y="813.40" width="23.60" height="70.20" fill="url(#p27)"/>
<rect x="1136.60" y="842.90" width="28.60" height="40.70" fill="#000"/>
<rect x="1139.10" y="845.40" width="23.60" height="38.20" fill="url(#p28)"/>
<line x1="869.90" y1="705.00" x2="1169.60" y2="705.00" stroke="#c8102e" stroke-width="3.9" stroke-dasharray="4.1 4.25" stroke-dashoffset="2.35"/>
<line x1="860.90" y1="647.50" x2="860.90" y2="759.70" stroke="#000" stroke-width="1.2" stroke-linecap="butt" />
<line x1="853.60" y1="647.50" x2="868.20" y2="647.50" stroke="#000" stroke-width="1.4" stroke-linecap="butt" />
<line x1="853.60" y1="759.70" x2="868.20" y2="759.70" stroke="#000" stroke-width="1.4" stroke-linecap="butt" />
<circle cx="860.90" cy="647.50" r="2.8" fill="#000"/>
<circle cx="860.90" cy="759.70" r="2.8" fill="#000"/>
<line x1="933.20" y1="755.20" x2="933.20" y2="777.70" stroke="#000" stroke-width="1.2" stroke-linecap="butt" />
<line x1="925.90" y1="755.20" x2="940.50" y2="755.20" stroke="#000" stroke-width="1.4" stroke-linecap="butt" />
<line x1="925.90" y1="777.70" x2="940.50" y2="777.70" stroke="#000" stroke-width="1.4" stroke-linecap="butt" />
<circle cx="933.20" cy="755.20" r="2.8" fill="#000"/>
<circle cx="933.20" cy="777.70" r="2.8" fill="#000"/>
<line x1="1005.70" y1="732.30" x2="1005.70" y2="740.20" stroke="#000" stroke-width="1.2" stroke-linecap="butt" />
<line x1="998.40" y1="732.30" x2="1013.00" y2="732.30" stroke="#000" stroke-width="1.4" stroke-linecap="butt" />
<line x1="998.40" y1="740.20" x2="1013.00" y2="740.20" stroke="#000" stroke-width="1.4" stroke-linecap="butt" />
<circle cx="1005.70" cy="732.30" r="2.8" fill="#000"/>
<circle cx="1005.70" cy="740.20" r="2.8" fill="#000"/>
<line x1="1077.80" y1="796.10" x2="1077.80" y2="824.70" stroke="#000" stroke-width="1.2" stroke-linecap="butt" />
<line x1="1070.50" y1="796.10" x2="1085.10" y2="796.10" stroke="#000" stroke-width="1.4" stroke-linecap="butt" />
<line x1="1070.50" y1="824.70" x2="1085.10" y2="824.70" stroke="#000" stroke-width="1.4" stroke-linecap="butt" />
<circle cx="1077.80" cy="796.10" r="2.8" fill="#000"/>
<circle cx="1077.80" cy="824.70" r="2.8" fill="#000"/>
<line x1="1150.50" y1="836.60" x2="1150.50" y2="848.00" stroke="#000" stroke-width="1.2" stroke-linecap="butt" />
<line x1="1143.20" y1="836.60" x2="1157.80" y2="836.60" stroke="#000" stroke-width="1.4" stroke-linecap="butt" />
<line x1="1143.20" y1="848.00" x2="1157.80" y2="848.00" stroke="#000" stroke-width="1.4" stroke-linecap="butt" />
<circle cx="1150.50" cy="836.60" r="2.8" fill="#000"/>
<circle cx="1150.50" cy="848.00" r="2.8" fill="#000"/>
<line x1="860.80" y1="632.25" x2="1150.50" y2="632.25" stroke="#000" stroke-width="2.6" stroke-linecap="butt" />
<line x1="860.80" y1="625.00" x2="860.80" y2="639.50" stroke="#000" stroke-width="2.6" stroke-linecap="butt" />
<line x1="1150.50" y1="625.00" x2="1150.50" y2="639.50" stroke="#000" stroke-width="2.6" stroke-linecap="butt" />
<path d="M1005.70,615.65V622.15M1002.79,617.15L1008.61,620.65M1002.79,620.65L1008.61,617.15" stroke="#000" stroke-width="1.5" stroke-linecap="round" fill="none"/>
<g transform="translate(866.30,904.42) rotate(-45)"><text font-size="16.40" text-anchor="end" font-weight="bold" fill="#000">LPS</text></g>
<g transform="translate(940.16,904.50) rotate(-45)"><text font-size="16.40" text-anchor="end" font-weight="bold" fill="#000">0.04</text></g>
<g transform="translate(1009.14,902.22) rotate(-45)"><text font-size="16.40" text-anchor="end" font-weight="bold" fill="#000">0.  </text><path transform="translate(-18.242,0) scale(0.008008,-0.008008)" d="M478,0L759,0L759,1409L520,1409L81,1100L81,880L478,1139Z" fill="#000"/><path transform="translate(-9.121,0) scale(0.008008,-0.008008)" d="M478,0L759,0L759,1409L520,1409L81,1100L81,880L478,1139Z" fill="#000"/></g>
<g transform="translate(1083.55,905.08) rotate(-45)"><text font-size="16.40" text-anchor="end" font-weight="bold" fill="#000">0.33</text></g>
<g transform="translate(1158.15,906.44) rotate(-45)"><text font-size="16.40" text-anchor="end" font-weight="bold" fill="#000"> .0</text><path transform="translate(-22.798,0) scale(0.008008,-0.008008)" d="M478,0L759,0L759,1409L520,1409L81,1100L81,880L478,1139Z" fill="#000"/></g>
<polyline points="890.30,928.80 890.30,935.10 1175.80,935.10 1175.80,928.80" fill="none" stroke="#000" stroke-width="2.7" stroke-linejoin="miter"/>
<g transform="translate(719.06,570.00)"><text font-size="29.68" text-anchor="start" font-weight="bold" fill="#000">D</text></g>
<g transform="translate(777.31,739.54) rotate(-90)"><text font-size="18.46" text-anchor="middle" font-weight="bold" fill="#000">Supernatant VEGF Levels (pg/mL)</text></g>
<g transform="translate(1044.32,959.00)"><text font-size="16.94" text-anchor="middle" font-weight="bold" fill="#000">Concentration (mg/mL) of</text></g>
<g transform="translate(1046.90,979.00)"><text font-size="16.87" text-anchor="middle" font-weight="bold" fill="#000">PolySia-NPs</text></g>
</svg>
</body></html>
